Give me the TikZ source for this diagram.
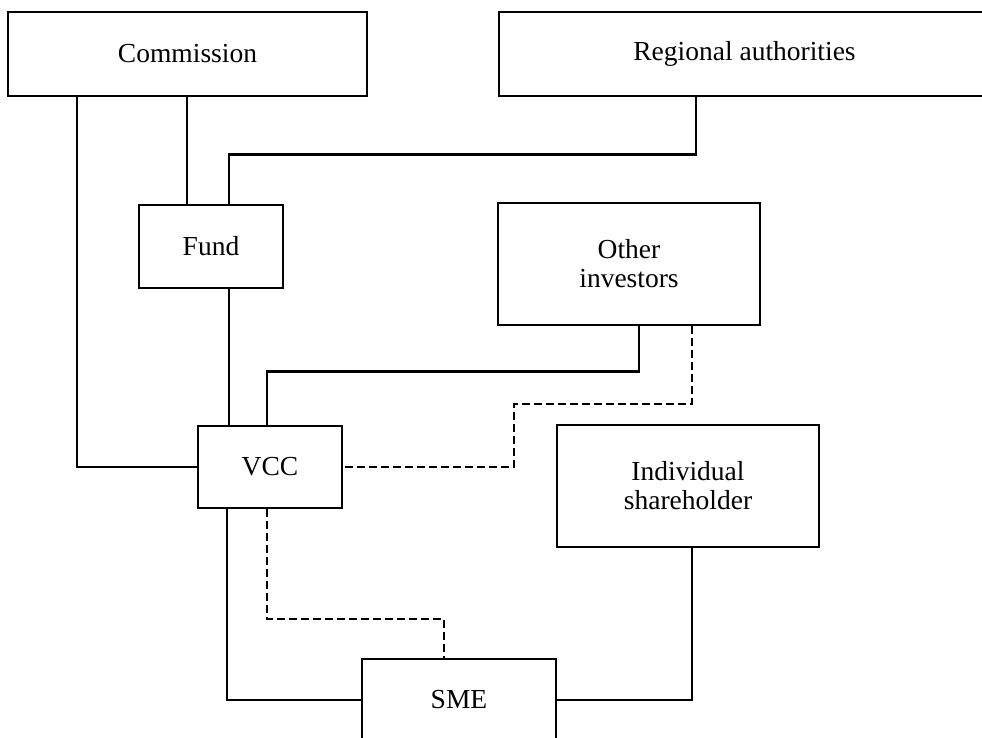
\documentclass[tikz,border=0pt]{standalone}
\usepackage{fontspec}
\setmainfont{Liberation Serif}
\begin{document}
\begin{tikzpicture}[x=1pt,y=-1pt,
  box/.style={draw=black,line width=2.5pt,rectangle,inner sep=0pt,align=center,
    font=\fontsize{27.5}{29}\selectfont},
  conn/.style={draw=black,line width=2.5pt},
  dconn/.style={draw=black,line width=2.3pt,dash pattern=on 8pt off 4pt}]
\useasboundingbox (0,0) rectangle (982,737);
\clip (0,0) rectangle (982,737);
\fill[white] (0,0) rectangle (982,737);
\node[box,minimum width=359pt,minimum height=84pt] (com) at (187.5,54) {Commission};
\node[box,minimum width=491pt,minimum height=84pt] (reg) at (744.5,54) {Regional authorities};
\node[box,minimum width=144pt,minimum height=83pt] (fund) at (211,246.5) {Fund};
\node[box,minimum width=262pt,minimum height=122pt] (oth) at (629,264) {Other\\investors};
\node[box,minimum width=144pt,minimum height=82pt] (vcc) at (270,467) {VCC};
\node[box,minimum width=262pt,minimum height=122pt] (ind) at (688,486) {Individual\\shareholder};
\node[box,minimum width=194pt,minimum height=82pt] (sme) at (459,700) {SME};
% solid connectors
\draw[conn] ([xshift=70pt]com.south west) |- (vcc.west);
\draw[conn] ([xshift=180pt]com.south west) -- ([xshift=49pt]fund.north west);
\draw[conn] ([xshift=198pt]reg.south west) -- ++(0,57) -| ([xshift=91pt]fund.north west);
\draw[conn] ([xshift=91pt]fund.south west) -- ([xshift=32pt]vcc.north west);
\draw[conn] ([xshift=142pt]oth.south west) -- ++(0,45) -| ([xshift=70pt]vcc.north west);
\draw[conn] ([xshift=30pt]vcc.south west) |- (sme.west);
\draw[conn] ([xshift=136pt]ind.south west) |- (sme.east);
% dashed connectors
\draw[dconn] ([xshift=195pt]oth.south west) -- ++(0,78) -- ++(-178,0) |- (vcc.east);
\draw[dconn] ([xshift=70pt]vcc.south west) -- ++(0,110) -| ([xshift=83pt]sme.north west);
\end{tikzpicture}
\end{document}
